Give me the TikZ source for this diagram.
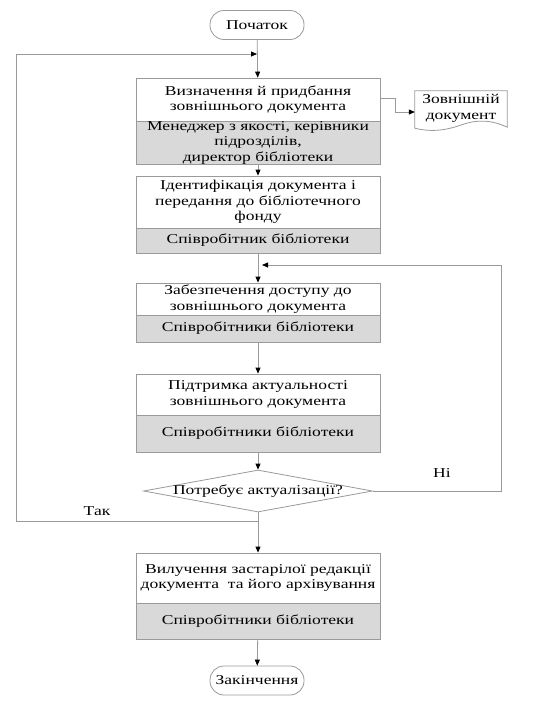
\documentclass[tikz,border=0pt]{standalone}
\usepackage{fontspec}
\setmainfont{Liberation Serif}[FakeStretch=1.3]
\usetikzlibrary{shapes.geometric,arrows.meta}
\definecolor{linec}{HTML}{9A9A9A}
\definecolor{greyf}{HTML}{D9D9D9}
\tikzset{
  txt/.style={font=\fontsize{13.5}{15.5}\selectfont, align=center},
  part/.style={txt, draw=linec, line width=0.8pt, minimum width=244pt, inner sep=0pt},
  toppart/.style={part, fill=white},
  botpart/.style={part, fill=greyf},
  term/.style={txt, draw=linec, line width=0.8pt, rounded corners=14pt, minimum width=94pt, minimum height=29pt, inner sep=0pt},
  conn/.style={draw=linec, line width=0.8pt},
  arr/.style={conn, -{Triangle[length=6pt,width=5pt,fill=black,color=black]}},
}
\begin{document}
\begin{tikzpicture}[x=1pt,y=-1pt]
\useasboundingbox (0,0) rectangle (539,705);
\fill[white] (0,0) rectangle (539,705);

\node[term] (start) at (257,25) {Початок};
\node[toppart, minimum height=43pt] (b1t) at (258,99.5) {Визначення й придбання\\ зовнішнього документа};
\node[botpart, minimum height=43pt] (b1b) at (258,142.5) {Менеджер з якості, керівники\\підрозділів,\\директор бібліотеки};
\node[toppart, minimum height=52pt] (b2t) at (258,202) {Ідентифікація документа і\\передання до бібліотечного\\фонду};
\node[botpart, minimum height=25pt] (b2b) at (258,240.5) {Співробітник бібліотеки};
\node[toppart, minimum height=32pt] (b3t) at (258,299) {Забезпечення доступу до\\зовнішнього документа};
\node[botpart, minimum height=27pt] (b3b) at (258,328.5) {Співробітники бібліотеки};
\node[toppart, minimum height=41pt] (b4t) at (258,394.5) {Підтримка актуальності\\ зовнішнього документа};
\node[botpart, minimum height=37pt] (b4b) at (258,433.5) {Співробітники бібліотеки};
\node[diamond, draw=linec, line width=0.8pt, fill=white, minimum width=229pt, minimum height=42pt, inner sep=0pt] (dia) at (258,491) {};
\node[txt] (dialab) at (dia.center) {Потребує актуалізації?};
\node[toppart, minimum height=50pt] (b5t) at (258,578) {Вилучення застарілої редакції\\документа \ та його архівування};
\node[botpart, minimum height=36pt] (b5b) at (258,621) {Співробітники бібліотеки};
\node[term] (end) at (257,680.5) {Закінчення};

% external document
\node[txt, minimum width=92pt, minimum height=35pt, inner sep=0pt] (doc) at (461,108.5) {Зовнішній\\документ};
\draw[conn] (doc.north west) -- (doc.north east) -- ([yshift=-1pt]doc.south east)
  .. controls (492,120) and (478,119) .. (461,125)
  .. controls (444,131) and (430,132) .. ([yshift=-2pt]doc.south west) -- cycle;

\node[txt] (tak) at (97,511) {Так};
\node[txt] (ni) at (442,473) {Ні};

\coordinate (j1) at (258,54);
\coordinate (j2) at (258,265);
\coordinate (t1) at (258,521);

\draw[arr] (start) -- (b1t);
\draw[arr] (b1b) -- (b2t);
\draw[arr] (b2b) -- (b3t);
\draw[arr] (b3b) -- (b4t);
\draw[arr] (b4b) -- (dia);
\draw[arr] (dia) -- (b5t);
\draw[arr] (b5b) -- (end);
\draw[arr] ([yshift=1.5pt]b1t.east) -- ++(15,0) |- ([yshift=-3.5pt]doc.west);
\draw[arr] (dia.east) -- ++(128,0) |- ([xshift=4pt]j2);
\draw[arr] (t1) -- ++(-242,0) |- ([xshift=-1pt]j1);
\end{tikzpicture}
\end{document}
